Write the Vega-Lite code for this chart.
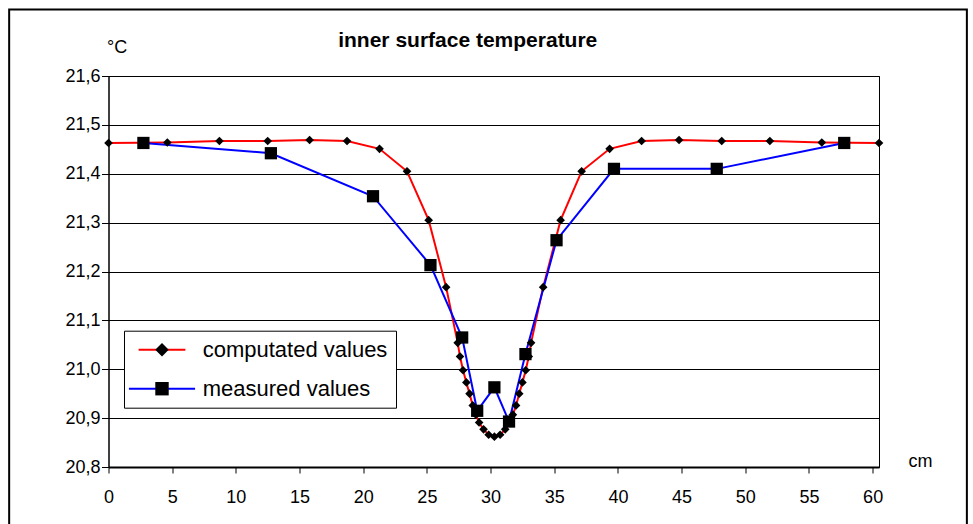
{
  "$schema": "https://vega.github.io/schema/vega-lite/v6.json",
  "width": 770.5,
  "height": 391,
  "autosize": "none",
  "padding": {"left": 108.5, "top": 76, "right": 94, "bottom": 57},
  "background": "white",
  "title": {
    "text": "inner surface temperature",
    "anchor": "middle",
    "frame": "group",
    "dx": -26,
    "offset": -59.6,
    "baseline": "alphabetic",
    "font": "Liberation Sans",
    "fontSize": 21,
    "fontWeight": "bold",
    "color": "#000"
  },
  "datasets": {
    "temps": [
      {"series": "computated values", "cm": 0, "temp": 21.463},
      {"series": "computated values", "cm": 4.62, "temp": 21.464},
      {"series": "computated values", "cm": 8.71, "temp": 21.467},
      {"series": "computated values", "cm": 12.5, "temp": 21.467},
      {"series": "computated values", "cm": 15.79, "temp": 21.469},
      {"series": "computated values", "cm": 18.73, "temp": 21.467},
      {"series": "computated values", "cm": 21.28, "temp": 21.451},
      {"series": "computated values", "cm": 23.44, "temp": 21.405},
      {"series": "computated values", "cm": 25.14, "temp": 21.305},
      {"series": "computated values", "cm": 26.51, "temp": 21.168},
      {"series": "computated values", "cm": 27.42, "temp": 21.054},
      {"series": "computated values", "cm": 27.6, "temp": 21.026},
      {"series": "computated values", "cm": 27.84, "temp": 20.998},
      {"series": "computated values", "cm": 28.1, "temp": 20.973},
      {"series": "computated values", "cm": 28.35, "temp": 20.95},
      {"series": "computated values", "cm": 28.6, "temp": 20.926},
      {"series": "computated values", "cm": 28.85, "temp": 20.907},
      {"series": "computated values", "cm": 29.1, "temp": 20.891},
      {"series": "computated values", "cm": 29.45, "temp": 20.877},
      {"series": "computated values", "cm": 29.85, "temp": 20.866},
      {"series": "computated values", "cm": 30.3, "temp": 20.862},
      {"series": "computated values", "cm": 30.75, "temp": 20.866},
      {"series": "computated values", "cm": 31.15, "temp": 20.877},
      {"series": "computated values", "cm": 31.5, "temp": 20.891},
      {"series": "computated values", "cm": 31.75, "temp": 20.907},
      {"series": "computated values", "cm": 32.0, "temp": 20.926},
      {"series": "computated values", "cm": 32.25, "temp": 20.95},
      {"series": "computated values", "cm": 32.5, "temp": 20.973},
      {"series": "computated values", "cm": 32.76, "temp": 20.998},
      {"series": "computated values", "cm": 33.0, "temp": 21.026},
      {"series": "computated values", "cm": 33.18, "temp": 21.054},
      {"series": "computated values", "cm": 34.13, "temp": 21.168},
      {"series": "computated values", "cm": 35.5, "temp": 21.305},
      {"series": "computated values", "cm": 37.15, "temp": 21.405},
      {"series": "computated values", "cm": 39.35, "temp": 21.451},
      {"series": "computated values", "cm": 41.86, "temp": 21.467},
      {"series": "computated values", "cm": 44.8, "temp": 21.469},
      {"series": "computated values", "cm": 48.15, "temp": 21.467},
      {"series": "computated values", "cm": 51.93, "temp": 21.467},
      {"series": "computated values", "cm": 56.01, "temp": 21.464},
      {"series": "computated values", "cm": 60.5, "temp": 21.463},
      {"series": "measured values", "cm": 2.74, "temp": 21.463},
      {"series": "measured values", "cm": 12.75, "temp": 21.442},
      {"series": "measured values", "cm": 20.77, "temp": 21.354},
      {"series": "measured values", "cm": 25.28, "temp": 21.213},
      {"series": "measured values", "cm": 27.77, "temp": 21.065},
      {"series": "measured values", "cm": 28.95, "temp": 20.915},
      {"series": "measured values", "cm": 30.3, "temp": 20.963},
      {"series": "measured values", "cm": 31.45, "temp": 20.893},
      {"series": "measured values", "cm": 32.74, "temp": 21.031},
      {"series": "measured values", "cm": 35.18, "temp": 21.264},
      {"series": "measured values", "cm": 39.69, "temp": 21.41},
      {"series": "measured values", "cm": 47.76, "temp": 21.41},
      {"series": "measured values", "cm": 57.77, "temp": 21.463}
    ]
  },
  "layer": [
    {
      "data": {"name": "temps"},
      "mark": {"type": "line", "strokeWidth": 2},
      "encoding": {
        "x": {
          "field": "cm",
          "type": "quantitative",
          "scale": {"domain": [0, 60.5], "nice": false, "zero": false},
          "axis": {
            "values": [0, 5, 10, 15, 20, 25, 30, 35, 40, 45, 50, 55, 60],
            "title": "cm",
            "titleX": 811.5,
            "titleY": -1,
            "titleAlign": "center",
            "titleBaseline": "alphabetic",
            "titleFontWeight": "normal",
            "titleFontSize": 18,
            "grid": false,
            "tickSize": 6,
            "tickColor": "#000",
            "domainColor": "#000",
            "domainWidth": 2,
            "labelFontSize": 18,
            "labelPadding": 15.7,
            "labelColor": "#000",
            "labelFlush": false,
            "labelOverlap": false
          }
        },
        "y": {
          "field": "temp",
          "type": "quantitative",
          "scale": {"domain": [20.8, 21.6], "nice": false, "zero": false},
          "axis": {
            "values": [20.8, 20.9, 21.0, 21.1, 21.2, 21.3, 21.4, 21.5, 21.6],
            "title": "°C",
            "titleAngle": 0,
            "titleX": 8.2,
            "titleY": -23.3,
            "titleAlign": "center",
            "titleBaseline": "alphabetic",
            "titleFontWeight": "normal",
            "titleFontSize": 18,
            "grid": true,
            "gridColor": "#000",
            "gridWidth": 1,
            "tickSize": 7,
            "tickColor": "#000",
            "domainColor": "#000",
            "labelFontSize": 18,
            "labelPadding": 1.5,
            "labelColor": "#000",
            "labelExpr": "replace(format(datum.value, '.1f'), '.', ',')"
          }
        },
        "stroke": {
          "field": "series",
          "type": "nominal",
          "scale": {"domain": ["computated values", "measured values"], "range": ["#ff0000", "#0000ff"]},
          "legend": {
            "orient": "none",
            "direction": "vertical",
            "legendX": 15.5,
            "legendY": 254.7,
            "title": null,
            "symbolType": "M-5.4,0H5.4",
            "symbolSize": 100,
            "symbolStrokeWidth": 2,
            "rowPadding": 17,
            "padding": 8,
            "symbolOffset": 19,
            "labelOffset": 29.7,
            "labelFontSize": 22,
            "labelLimit": 400,
            "labelColor": "#000",
            "strokeColor": "#000",
            "fillColor": "#fff",
            "zindex": 1
          }
        }
      }
    },
    {
      "data": {"name": "temps"},
      "mark": {"type": "point", "filled": true, "color": "#000", "opacity": 1},
      "encoding": {
        "x": {"field": "cm", "type": "quantitative"},
        "y": {"field": "temp", "type": "quantitative"},
        "shape": {
          "field": "series",
          "type": "nominal",
          "scale": {"range": ["diamond", "square"]},
          "legend": {
            "orient": "none",
            "direction": "vertical",
            "legendX": 15.5,
            "legendY": 254.7,
            "title": null,
            "symbolSize": 180,
            "symbolFillColor": "#000",
            "symbolStrokeColor": "#000",
            "symbolStrokeWidth": 0,
            "rowPadding": 17,
            "padding": 8,
            "symbolOffset": 19,
            "labelFontSize": 22,
            "labelExpr": "''",
            "zindex": 2
          }
        },
        "size": {
          "field": "series",
          "type": "ordinal",
          "scale": {"domain": ["computated values", "measured values"], "range": [75, 150]},
          "legend": null
        }
      }
    },
    {
      "data": {"values": [{"frame": "border"}]},
      "mark": {"type": "rect", "fill": "#ffffff", "fillOpacity": 0, "stroke": "#000000", "strokeWidth": 2, "clip": false},
      "encoding": {
        "x": {"datum": -7.8, "type": "quantitative"},
        "x2": {"datum": 67.4},
        "y": {"datum": 21.736, "type": "quantitative"},
        "y2": {"datum": 20.6}
      }
    }
  ],
  "config": {
    "font": "Liberation Sans",
    "view": {"stroke": "#000", "strokeWidth": 1},
    "axis": {"labelFont": "Liberation Sans", "titleFont": "Liberation Sans", "titleColor": "#000"},
    "legend": {"labelFont": "Liberation Sans"}
  }
}
